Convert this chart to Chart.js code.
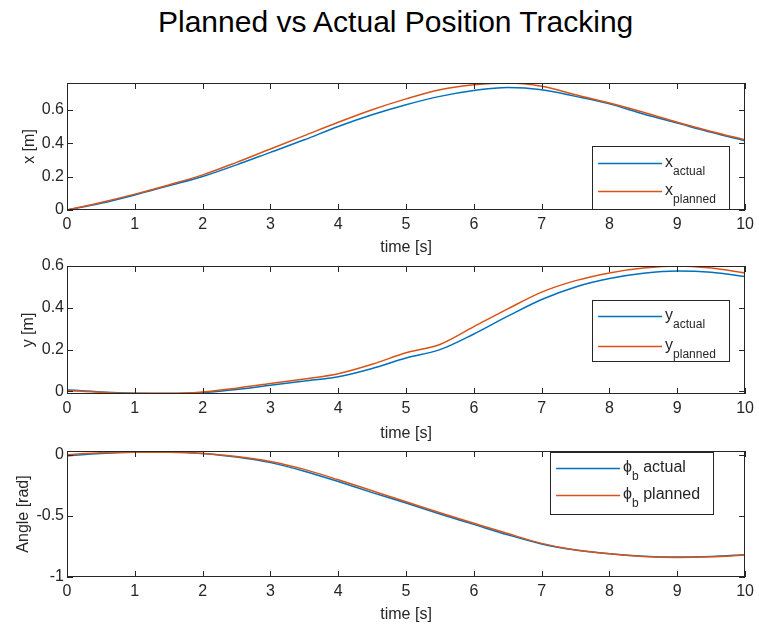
<!DOCTYPE html>
<html>
<head>
<meta charset="utf-8">
<script src="https://cdn.jsdelivr.net/npm/chart.js@4.4.1/dist/chart.umd.min.js"></script>
<style>
  body { margin: 0; background: #fff; width: 759px; height: 629px; position: relative; overflow: hidden;
         font-family: "Liberation Sans", Arial, sans-serif; }
  #title { position: absolute; left: 158px; top: 5px; font-size: 30px; line-height: 34px; color: #000; white-space: nowrap; }
  canvas { position: absolute; left: 0; }
</style>
</head>
<body>
<div id="title">Planned vs Actual Position Tracking</div>
<canvas id="cx" width="759" height="197" style="top:60px"></canvas>
<canvas id="cy" width="759" height="193" style="top:250px"></canvas>
<canvas id="cphi" width="759" height="190" style="top:434px"></canvas>
<script>
// sample times [s]
const time = [0, 0.5, 1, 1.5, 2, 2.5, 3, 3.5, 4, 4.5, 5, 5.5, 6, 6.5, 7, 7.5, 8, 8.5, 9, 9.5, 10];

// x position [m]
const xActual  = [0, 0.04, 0.09, 0.145, 0.2, 0.27, 0.345, 0.42, 0.5, 0.57, 0.63, 0.68, 0.715, 0.733, 0.72, 0.68, 0.635, 0.575, 0.52, 0.465, 0.415];
const xPlanned = [0, 0.045, 0.095, 0.15, 0.21, 0.285, 0.365, 0.445, 0.525, 0.6, 0.665, 0.72, 0.75, 0.76, 0.74, 0.69, 0.64, 0.585, 0.525, 0.47, 0.42];

// y position [m]
const yActual  = [0.008, -0.002, -0.008, -0.01, -0.006, 0.01, 0.03, 0.05, 0.07, 0.11, 0.16, 0.2, 0.275, 0.36, 0.44, 0.5, 0.54, 0.565, 0.576, 0.57, 0.55];
const yPlanned = [0.005, -0.004, -0.009, -0.009, -0.002, 0.016, 0.038, 0.06, 0.085, 0.13, 0.185, 0.225, 0.31, 0.395, 0.475, 0.53, 0.567, 0.59, 0.6, 0.59, 0.567];

// body angle [rad]
const phiActual  = [-0.01, 0.01, 0.02, 0.02, 0.01, -0.02, -0.065, -0.135, -0.22, -0.31, -0.395, -0.485, -0.57, -0.655, -0.73, -0.78, -0.81, -0.83, -0.837, -0.832, -0.818];
const phiPlanned = [0, 0.015, 0.02, 0.02, 0.01, -0.015, -0.055, -0.12, -0.205, -0.295, -0.385, -0.475, -0.56, -0.645, -0.725, -0.78, -0.81, -0.832, -0.84, -0.835, -0.82];

// tick labels
const timeTicks = [0, 1, 2, 3, 4, 5, 6, 7, 8, 9, 10];
const xTicks = [0, 0.2, 0.4, 0.6];
const yTicks = [0, 0.2, 0.4, 0.6];
const phiTicks = [-1, -0.5, 0];

// legend entries: symbol, subscript, trailing text
const xLegend = [['x', 'actual', ''], ['x', 'planned', '']];
const yLegend = [['y', 'actual', ''], ['y', 'planned', '']];
const phiLegend = [['\u03d5', 'b', ' actual'], ['\u03d5', 'b', ' planned']];

const BLUE = '#0072BD', ORANGE = '#D95319', INK = '#262626';
const FONT = '"Liberation Sans", Arial, sans-serif';

// box around the axes with inward tick marks on all four sides
const framePlugin = {
  id: 'frame',
  afterDatasetsDraw(chart) {
    const { ctx, chartArea: a, scales: { x, y } } = chart;
    const tl = 6;
    ctx.save();
    ctx.strokeStyle = INK;
    ctx.lineWidth = 1;
    ctx.beginPath();
    x.ticks.forEach(t => {
      const px = Math.round(x.getPixelForValue(t.value)) + 0.5;
      ctx.moveTo(px, a.bottom); ctx.lineTo(px, a.bottom - tl);
      ctx.moveTo(px, a.top); ctx.lineTo(px, a.top + tl);
    });
    y.ticks.forEach(t => {
      const py = Math.round(y.getPixelForValue(t.value)) + 0.5;
      ctx.moveTo(a.left, py); ctx.lineTo(a.left + tl, py);
      ctx.moveTo(a.right, py); ctx.lineTo(a.right - tl, py);
    });
    ctx.stroke();
    ctx.strokeRect(Math.round(a.left) + 0.5, Math.round(a.top) + 0.5, Math.round(a.width) - 1, Math.round(a.height) - 1);
    ctx.restore();
  }
};

// matlab-like legend box inside the axes
const boxLegendPlugin = {
  id: 'boxLegend',
  afterDraw(chart, args, opts) {
    const { ctx, chartArea: a } = chart;
    const left = a.right - opts.right - opts.width;
    const top = opts.top != null ? a.top + opts.top : a.bottom - opts.bottom - opts.height;
    ctx.save();
    ctx.fillStyle = '#fff';
    ctx.fillRect(left, top, opts.width, opts.height);
    ctx.strokeStyle = INK;
    ctx.lineWidth = 1;
    ctx.strokeRect(Math.round(left) + 0.5, Math.round(top) + 0.5, opts.width, opts.height);
    opts.entries.forEach((e, i) => {
      const ry = Math.round(top + opts.rows[i]) + 0.5;
      ctx.strokeStyle = chart.data.datasets[i].borderColor;
      ctx.lineWidth = 1.5;
      ctx.beginPath();
      ctx.moveTo(left + 6, ry); ctx.lineTo(left + 70, ry);
      ctx.stroke();
      ctx.fillStyle = INK;
      ctx.textBaseline = 'middle';
      let tx = left + 73;
      ctx.font = '16px ' + FONT;
      ctx.fillText(e[0], tx, ry - 1);
      tx += ctx.measureText(e[0]).width;
      ctx.font = '12px ' + FONT;
      ctx.fillText(e[1], tx, ry + 8);
      tx += ctx.measureText(e[1]).width;
      if (e[2]) {
        ctx.font = '16px ' + FONT;
        ctx.fillText(e[2], tx, ry - 1);
      }
    });
    ctx.restore();
  }
};

function pts(vals) {
  return time.map((t, i) => ({ x: t, y: vals[i] }));
}

function makePlot(id, actual, planned, yMin, yMax, yTickVals, yTitle, yTitlePad, padTop, xAxisH, legend) {
  new Chart(document.getElementById(id), {
    type: 'line',
    data: {
      datasets: [
        { label: 'actual', data: pts(actual), borderColor: BLUE, borderWidth: 1.5, pointRadius: 0,
          cubicInterpolationMode: 'monotone', order: 1 },
        { label: 'planned', data: pts(planned), borderColor: ORANGE, borderWidth: 1.5, pointRadius: 0,
          cubicInterpolationMode: 'monotone', order: 0 }
      ]
    },
    options: {
      responsive: false,
      animation: false,
      layout: { padding: { top: padTop, right: 11, left: 0, bottom: 0 } },
      plugins: {
        legend: { display: false },
        tooltip: { enabled: false },
        boxLegend: legend
      },
      scales: {
        x: {
          type: 'linear', min: 0, max: 10,
          afterBuildTicks: s => { s.ticks = timeTicks.map(v => ({ value: v })); },
          afterFit: s => { s.height = xAxisH; },
          grid: { display: false, drawTicks: false },
          border: { display: false },
          ticks: { color: INK, font: { family: FONT, size: 16 }, padding: 5, autoSkip: false, maxRotation: 0,
                   callback: v => String(v) },
          title: { display: true, text: 'time [s]', color: INK, font: { family: FONT, size: 16 }, padding: 0 }
        },
        y: {
          type: 'linear', min: yMin, max: yMax,
          afterBuildTicks: s => { s.ticks = yTickVals.map(v => ({ value: v })); },
          afterFit: s => { s.width = 67; },
          grid: { display: false, drawTicks: false },
          border: { display: false },
          ticks: { color: INK, font: { family: FONT, size: 16 }, padding: 3, autoSkip: false,
                   callback: v => String(v) },
          title: { display: true, text: yTitle, color: INK, font: { family: FONT, size: 16 }, padding: { top: yTitlePad } }
        }
      }
    },
    plugins: [framePlugin, boxLegendPlugin]
  });
}

makePlot('cx', xActual, xPlanned, 0, 0.76, xTicks, 'x [m]', 20, 23, 47,
  { entries: xLegend, right: 16, bottom: 1, width: 137, height: 63, rows: [17, 45] });
makePlot('cy', yActual, yPlanned, -0.012, 0.6, yTicks, 'y [m]', 19, 16, 49,
  { entries: yLegend, right: 16, top: 34, width: 137, height: 61, rows: [16, 46] });
makePlot('cphi', phiActual, phiPlanned, -1, 0.03, phiTicks, 'Angle [rad]', 14, 17, 47,
  { entries: phiLegend, right: 32, top: 1, width: 163, height: 62, rows: [16, 43] });
</script>
</body>
</html>
